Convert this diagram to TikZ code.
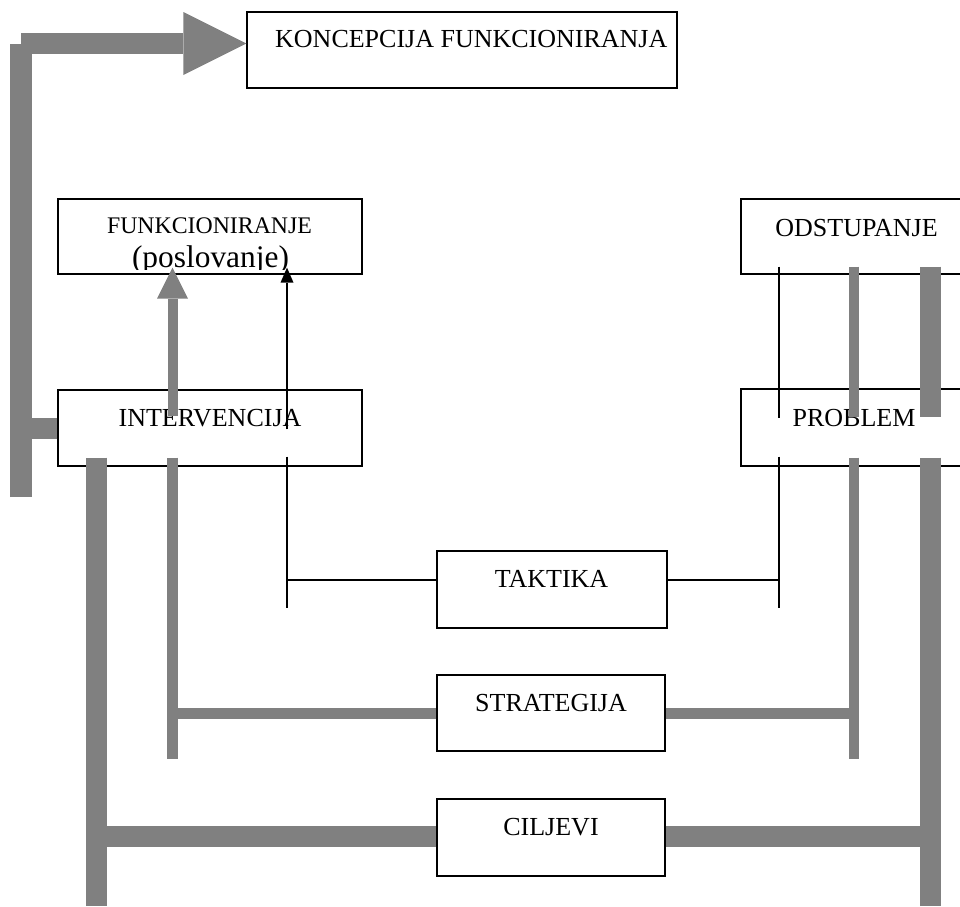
\documentclass[tikz,border=0pt]{standalone}
\usepackage{fontspec}
\setmainfont{Liberation Serif}
\usetikzlibrary{calc}
\definecolor{barGray}{RGB}{128,128,128}
\begin{document}
\begin{tikzpicture}[x=1pt,y=-1pt,
  box/.style={draw=black,line width=1.2pt,fill=white,inner sep=0pt},
  lbl/.style={inner sep=0pt,anchor=base,font=\fontsize{26}{30}\selectfont},
  thinline/.style={draw=black,line width=1.3pt},
  barS/.style={draw=barGray,line width=10.5pt},
  barL/.style={draw=barGray,line width=21.5pt}]
\useasboundingbox (0,0) rectangle (960,906);
\clip (0,0) rectangle (960,906);

% boxes
\node[box,minimum width=430pt,minimum height=76pt] (kon) at (462,50) {};
\node[box,minimum width=304pt,minimum height=75pt] (fun) at (210,236.5) {};
\node[box,minimum width=304pt,minimum height=76pt] (int) at (210,428) {};
\node[box,minimum width=260pt,minimum height=75pt] (ods) at (871,236.5) {};
\node[box,minimum width=260pt,minimum height=77pt] (pro) at (871,427.5) {};
\node[box,minimum width=230pt,minimum height=77pt] (tak) at (552,589.5) {};
\node[box,minimum width=228pt,minimum height=76pt] (str) at (551,713) {};
\node[box,minimum width=228pt,minimum height=77pt] (cil) at (551,837.5) {};

% labels
\node[lbl,anchor=base west] (konT) at (275,47) {KONCEPCIJA FUNKCIONIRANJA};
\node[lbl,font=\fontsize{23.8}{28}\selectfont] (funT) at (209.5,233) {FUNKCIONIRANJE};
\begin{scope}
  \clip (58,199) rectangle (362,269);
  \node[lbl,font=\fontsize{31.4}{36}\selectfont] (posT) at (210.5,267) {(poslovanje)};
\end{scope}
\node[lbl] (intT) at (210,426) {INTERVENCIJA};
\node[lbl] (odsT) at (856.5,236) {ODSTUPANJE};
\node[lbl] (proT) at (854,426) {PROBLEM};
\node[lbl] (takT) at (551.5,587) {TAKTIKA};
\node[lbl] (strT) at (551,711) {STRATEGIJA};
\node[lbl] (cilT) at (551,835) {CILJEVI};

% column positions of the vertical bars
\coordinate (xLoop) at (21,0);
\coordinate (xL1) at (96.5,0);
\coordinate (xL2) at (172.5,0);
\coordinate (xL3) at (287,0);
\coordinate (xR3) at (779,0);
\coordinate (xR2) at (854,0);
\coordinate (xR1) at (930.5,0);

% feedback loop to the concept box
\coordinate (konIn) at ($(kon.west)+(0,-6.5)$);
\coordinate (loopBot) at (21,497);
\draw[barL,line width=22pt] (loopBot) -- (loopBot |- konIn);
\draw[barL,line width=21pt] (konIn -| xLoop) -- ($(konIn)+(-63,0)$);
\fill[barGray] ($(konIn)+(-63,-31.5)$) -- ($(konIn)+(-63,31.5)$) -- (konIn) -- cycle;
\draw[barL,line width=21pt] (int.west) -- (int.west -| loopBot);

% arrows from intervention to operation
\coordinate (upT) at ($(fun.south)+(-37.5,-7)$);
\draw[barS,line width=10pt] ($(int.north -| upT)+(0,27)$) -- ($(upT)+(0,31)$);
\fill[barGray] ($(upT)+(-15.5,31)$) -- ($(upT)+(15.5,31)$) -- (upT) -- cycle;
\coordinate (bkT) at ($(fun.south -| xL3)+(0,-7)$);
\draw[thinline] ($(int.north -| xL3)+(0,40)$) -- ($(bkT)+(0,15)$);
\fill[black] ($(bkT)+(-6.5,15)$) -- ($(bkT)+(6.5,15)$) -- (bkT) -- cycle;

% left brackets
\draw[barL,line width=21pt] ($(int.south -| xL1)+(0,-9)$) -- (96.5,906);
\draw[barS,line width=11pt] ($(int.south -| xL2)+(0,-9)$) -- (172.5,759);
\draw[thinline] ($(int.south -| xL3)+(0,-10)$) -- (287,608);

% right brackets, upper part
\draw[thinline] ($(ods.south -| xR3)+(0,-8)$) -- ($(pro.north -| xR3)+(0,29.5)$);
\draw[barS,line width=10pt] ($(ods.south -| xR2)+(0,-8)$) -- ($(pro.north -| xR2)+(0,28.5)$);
\draw[barL,line width=21pt] ($(ods.south -| xR1)+(0,-8)$) -- ($(pro.north -| xR1)+(0,28.5)$);

% right brackets, lower part
\draw[thinline] ($(pro.south -| xR3)+(0,-10)$) -- (779,608);
\draw[barS,line width=10pt] ($(pro.south -| xR2)+(0,-9)$) -- (854,759);
\draw[barL,line width=21pt] ($(pro.south -| xR1)+(0,-9)$) -- (930.5,906);

% horizontal links
\coordinate (takL) at ($(tak.west)+(0,-9.5)$);
\coordinate (takR) at ($(tak.east)+(0,-9.5)$);
\draw[thinline] (takL) -- (takL -| xL3);
\draw[thinline] (takR) -- (takR -| xR3);
\draw[barS,line width=11pt] (str.west) -- (str.west -| xL2);
\draw[barS,line width=11pt] (str.east) -- (str.east -| xR2);
\draw[barL,line width=21pt] ($(cil.west)+(0,-1)$) -- ($(cil.west -| xL1)+(0,-1)$);
\draw[barL,line width=21pt] ($(cil.east)+(0,-1)$) -- ($(cil.east -| xR1)+(0,-1)$);
\end{tikzpicture}
\end{document}
